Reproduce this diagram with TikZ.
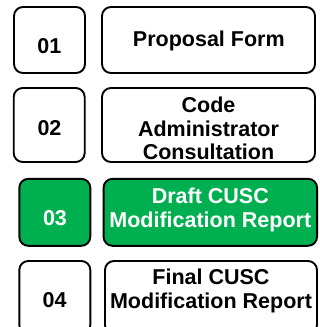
\documentclass[tikz,border=0pt]{standalone}
\usepackage{fontspec}
\setmainfont{Liberation Sans}
\definecolor{cgreen}{HTML}{00B050}
\begin{document}
\begin{tikzpicture}[x=1pt,y=-1pt,
  box/.style={draw=black, line width=1.9pt, rounded corners=9pt, inner sep=0pt, fill=white},
  greenbox/.style={box, fill=cgreen},
  lbl/.style={inner sep=0pt, anchor=base, font=\bfseries\fontsize{21.5}{24}\selectfont},
]
\useasboundingbox (0,0) rectangle (320,327);
\fill[white] (0,0) rectangle (320,327);
\clip (0,0) rectangle (320,327);
% row 1
\node[box, minimum width=71pt, minimum height=66pt] (n1) at (49.5,40) {};
\node[box, minimum width=213pt, minimum height=66pt] (t1) at (208.5,40) {};
% row 2
\node[box, minimum width=71pt, minimum height=74pt] (n2) at (49.2,125) {};
\node[box, minimum width=213pt, minimum height=74pt] (t2) at (208.5,125) {};
% row 3
\node[greenbox, minimum width=71pt, minimum height=67pt] (n3) at (54.8,212.3) {};
\node[greenbox, minimum width=213.5pt, minimum height=67pt] (t3) at (210.3,212.3) {};
% row 4
\node[box, minimum width=71pt, minimum height=73pt] (n4) at (54.8,297.5) {};
\node[box, minimum width=212pt, minimum height=73pt] (t4) at (211,297.5) {};
% labels
\node[lbl] (l1) at (49.3,53.3) {01};
\node[lbl] (m1) at (208.8,46.7) {Proposal Form};
\node[lbl] (l2) at (49.5,135) {02};
\node[lbl, font=\bfseries\fontsize{21.5}{23.3}\selectfont] (m2) at (208.5,112.7)
  {\begin{tabular}[t]{@{}c@{}}Code\\Administrator\\Consultation\end{tabular}};
\node[lbl, text=white] (l3) at (55,225.7) {03};
\node[lbl, text=white, font=\bfseries\fontsize{21.5}{24.5}\selectfont] (m3) at (210.3,203.3)
  {\begin{tabular}[t]{@{}c@{}}Draft CUSC\\Modification Report\end{tabular}};
\node[lbl] (l4) at (54.7,307.7) {04};
\node[lbl] (m4) at (211,284.6)
  {\begin{tabular}[t]{@{}c@{}}Final CUSC\\Modification Report\end{tabular}};
\end{tikzpicture}
\end{document}
